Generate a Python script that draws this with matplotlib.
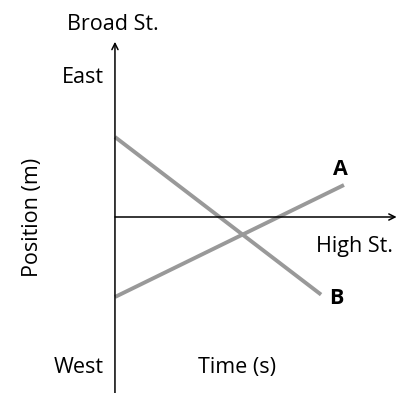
import matplotlib
matplotlib.use("Agg")
import matplotlib.pyplot as plt

plt.rcParams['font.family'] = ['Open Sans', 'DejaVu Sans']

# position vs time for the two objects
time_a = [0, 10]
pos_a = [-10, 4]
time_b = [0, 9]
pos_b = [10, -9.7]
line_labels = ['A', 'B']

fig = plt.figure(figsize=(3.98, 3.93), dpi=100)
ax = fig.add_axes([0, 0, 1, 1])
ax.set_xlim(-5.02, 12.36)
ax.set_ylim(-22, 27.125)
ax.axis('off')

grey = '#999999'
ax.plot(time_a, pos_a, color=grey, lw=2.8, solid_capstyle='butt')
ax.plot(time_b, pos_b, color=grey, lw=2.8, solid_capstyle='butt')

# axes with arrows
arr = dict(arrowstyle='->', color='black', lw=1.1, mutation_scale=11, shrinkA=0, shrinkB=0)
ax.annotate('', xy=(0, 21.9), xytext=(0, -22.5), arrowprops=arr)
ax.annotate('', xy=(12.3, 0), xytext=(0, 0), arrowprops=arr)

fs = 15.5
ax.text(-0.09, 24.0, 'Broad St.', ha='center', va='center', fontsize=fs)
ax.text(-0.5, 17.4, 'East', ha='right', va='center', fontsize=fs)
ax.text(-0.5, -18.85, 'West', ha='right', va='center', fontsize=fs)
ax.text(-3.6, 0, 'Position (m)', ha='center', va='center', rotation=90, fontsize=fs)
ax.text(10.44, -3.7, 'High St.', ha='center', va='center', fontsize=fs)
ax.text(5.33, -18.85, 'Time (s)', ha='center', va='center', fontsize=fs)
ax.text(9.83, 5.9, line_labels[0], ha='center', va='center',
        fontsize=fs, fontweight='bold')
ax.text(9.65, -10.2, line_labels[1], ha='center', va='center',
        fontsize=fs, fontweight='bold')

fig.savefig('out.png', dpi=100)
